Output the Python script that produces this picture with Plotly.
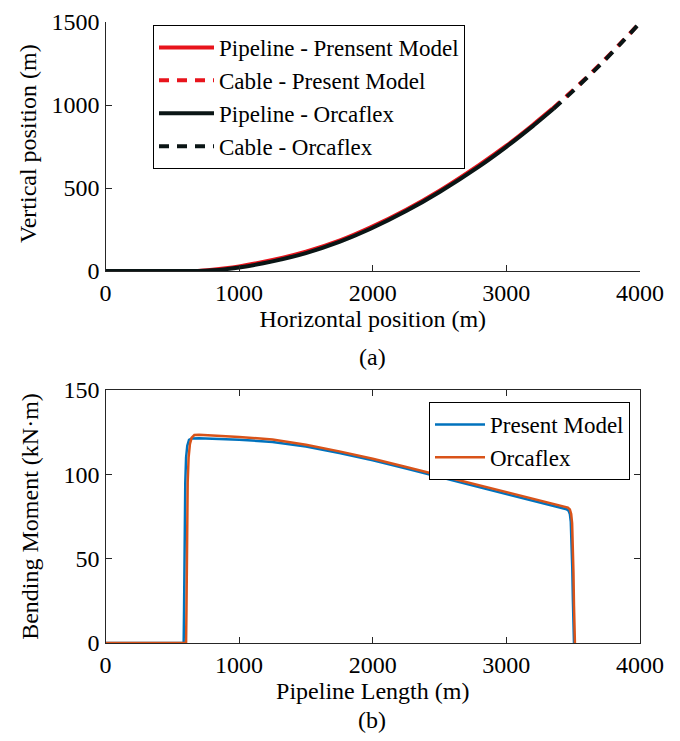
import plotly.graph_objects as go

# ---------------- (a) configuration ----------------
pipe_pm_x = [0, 200, 400, 600, 690, 800, 900, 1000, 1250, 1500, 1755, 1980, 2250, 2500, 2800, 3000, 3200, 3345]
pipe_pm_y = [0, 0, 0, 0, 0, 7, 16, 28, 66, 116, 184, 261, 369, 484, 641, 755, 881, 978]
cable_pm_x = [3345, 3500, 3700, 3850, 4000]
cable_pm_y = [978, 1090, 1244, 1368, 1497]

pipe_of_x = [0, 200, 400, 600, 700, 800, 900, 1000, 1250, 1500, 1755, 1980, 2250, 2500, 2800, 3000, 3200, 3353]
pipe_of_y = [0, 0, 0, 0, 0, 4, 11, 21, 58, 108, 177, 253, 361, 476, 632, 748, 874, 977]
cable_of_x = [3353, 3500, 3700, 3850, 4000]
cable_of_y = [977, 1085, 1240, 1365, 1495]

# ---------------- (b) bending moment ----------------
bm_pm_x = [0, 585, 588, 592, 597, 603, 612, 625, 645, 700, 850, 1000, 1250, 1500, 1750, 2000, 2250,
           2500, 2750, 3000, 3250, 3400, 3450, 3465, 3475, 3482, 3488, 3493, 3498, 3503, 3506]
bm_pm_y = [0, 0, 20, 60, 95, 110, 117, 120.5, 121.3, 121.4, 121.1, 120.5, 119.2, 116.5, 112.6, 108.3, 103.4,
           98.4, 93.4, 88.4, 83.6, 80.3, 79.3, 78.5, 76.5, 72, 62, 45, 25, 8, 0]
bm_of_x = [0, 603, 606, 610, 615, 622, 632, 645, 665, 700, 850, 1000, 1250, 1500, 1750, 2000, 2250,
           2500, 2750, 3000, 3250, 3400, 3460, 3475, 3485, 3492, 3497, 3502, 3506, 3510, 3513]
bm_of_y = [0, 0, 20, 60, 95, 110, 118, 121.8, 123.3, 123.5, 123.0, 122.2, 120.6, 117.6, 113.6, 109.2, 104.3,
           99.3, 94.3, 89.3, 84.5, 81.6, 80.3, 79.2, 76.5, 71, 60, 42, 22, 6, 0]

RED = "#e8141c"
BLK = "#0a1515"
BLUE = "#0072BD"
ORANGE = "#D95319"
FONT = "Times New Roman, Liberation Serif, serif"

fig = go.Figure()

fig.add_trace(go.Scatter(x=pipe_pm_x, y=pipe_pm_y, mode="lines", name="Pipeline - Prensent Model",
                         line=dict(color=RED, width=4, shape="spline", smoothing=0.6),
                         xaxis="x", yaxis="y", legend="legend"))
fig.add_trace(go.Scatter(x=cable_pm_x, y=cable_pm_y, mode="lines", name="Cable - Present Model",
                         line=dict(color=RED, width=4, dash="10px,8px", shape="spline", smoothing=0.6),
                         xaxis="x", yaxis="y", legend="legend"))
fig.add_trace(go.Scatter(x=pipe_of_x, y=pipe_of_y, mode="lines", name="Pipeline - Orcaflex",
                         line=dict(color=BLK, width=4, shape="spline", smoothing=0.6),
                         xaxis="x", yaxis="y", legend="legend"))
fig.add_trace(go.Scatter(x=cable_of_x, y=cable_of_y, mode="lines", name="Cable - Orcaflex",
                         line=dict(color=BLK, width=4, dash="10px,8px", shape="spline", smoothing=0.6),
                         xaxis="x", yaxis="y", legend="legend"))

fig.add_trace(go.Scatter(x=bm_pm_x, y=bm_pm_y, mode="lines", name="Present Model",
                         line=dict(color=BLUE, width=2.5),
                         xaxis="x2", yaxis="y2", legend="legend2"))
fig.add_trace(go.Scatter(x=bm_of_x, y=bm_of_y, mode="lines", name="Orcaflex",
                         line=dict(color=ORANGE, width=2.5),
                         xaxis="x2", yaxis="y2", legend="legend2"))

# page has an 8px body margin; figure sized to fit inside the window
OFF = 8
W, H = 664, 725


def px(xp):
    return (xp - OFF) / W


def py(yp):
    return 1 - (yp - OFF) / H


xdom = [px(105.5), px(640)]
ydom_a = [py(271), py(22)]
ydom_b = [py(643), py(390)]

axis_common = dict(showgrid=False, zeroline=False, showline=True, linecolor="#262626", linewidth=1.3,
                   ticks="inside", ticklen=6, tickwidth=1.3, tickcolor="#262626",
                   ticklabeloverflow="allow",
                   tickfont=dict(family=FONT, size=24, color="black"))

fig.update_layout(
    width=W, height=H,
    margin=dict(l=0, r=0, t=0, b=0),
    paper_bgcolor="white", plot_bgcolor="white",
    font=dict(family=FONT, size=24, color="black"),
    showlegend=True,
    xaxis=dict(domain=xdom, range=[0, 4000], tickvals=[0, 1000, 2000, 3000, 4000], anchor="y",
               title=dict(text="Horizontal position (m)", font=dict(family=FONT, size=24), standoff=2),
               automargin=False, **axis_common),
    yaxis=dict(domain=ydom_a, range=[0, 1500], tickvals=[0, 500, 1000, 1500], anchor="x",
               automargin=False, **axis_common),
    xaxis2=dict(domain=xdom, range=[0, 4000], tickvals=[0, 1000, 2000, 3000, 4000], anchor="y2",
                mirror="ticks",
                title=dict(text="Pipeline Length (m)", font=dict(family=FONT, size=24), standoff=2),
                automargin=False, **axis_common),
    yaxis2=dict(domain=ydom_b, range=[0, 150], tickvals=[0, 50, 100, 150], anchor="x2",
                mirror="ticks",
                title=dict(text="Bending Moment (kN·m)", font=dict(family=FONT, size=24), standoff=18),
                automargin=False, **axis_common),
    legend=dict(x=px(153), y=py(25), xanchor="left", yanchor="top",
                bgcolor="white", bordercolor="black", borderwidth=1, itemwidth=55,
                font=dict(family=FONT, size=23, color="black"), tracegroupgap=0),
    legend2=dict(x=px(630), y=py(402), xanchor="right", yanchor="top",
                 bgcolor="white", bordercolor="black", borderwidth=1, itemwidth=50,
                 font=dict(family=FONT, size=23, color="black"), tracegroupgap=0),
    annotations=[
        dict(text="Vertical position (m)", x=px(28), y=py(144), xref="paper", yref="paper",
             xanchor="center", yanchor="middle", textangle=-90,
             showarrow=False, font=dict(family=FONT, size=24, color="black")),
        dict(text="(a)", x=px(372), y=py(357), xref="paper", yref="paper",
             xanchor="center", yanchor="middle",
             showarrow=False, font=dict(family=FONT, size=24, color="black")),
        dict(text="(b)", x=px(372), y=0, xref="paper", yref="paper",
             xanchor="center", yanchor="bottom", yshift=-2,
             showarrow=False, font=dict(family=FONT, size=24, color="black")),
    ],
)

fig.write_html("out.html")
